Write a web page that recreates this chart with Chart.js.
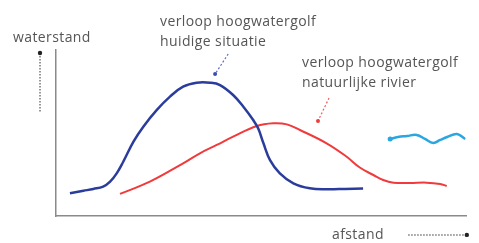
<!DOCTYPE html>
<html>
<head>
<meta charset="utf-8">
<script src="https://cdn.jsdelivr.net/npm/chart.js@4.4.0/dist/chart.umd.min.js"></script>
<style>
  html, body { margin: 0; padding: 0; background: #fff; }
  #wrap { width: 479px; height: 243px; position: relative; }
</style>
</head>
<body>
<div id="wrap"><canvas id="golf"></canvas></div>
<script>
const huidigX = [3.4, 6.7, 9.1, 11.5, 13.2, 14.8, 16.4, 18.9, 21.3, 24.6, 27.8, 31.0, 34.3, 37.6, 40.0, 43.2, 45.7, 48.1, 49.3, 50.6, 52.2, 54.6, 57.9, 61.9, 66.0, 70.5, 74.9];
const huidigY = [13.7, 15.2, 16.3, 17.7, 20.7, 25.7, 32.7, 44.8, 53.8, 63.9, 71.9, 77.9, 80.3, 80.3, 78.9, 72.9, 65.8, 57.8, 52.8, 43.8, 33.7, 25.7, 19.7, 16.7, 16.1, 16.3, 16.6];

const natuurX = [15.6, 22.9, 31.0, 35.1, 39.2, 43.2, 49.0, 53.0, 56.3, 59.5, 66.0, 70.9, 74.1, 77.4, 79.8, 82.3, 86.3, 90.4, 93.7, 95.3];
const natuurY = [13.3, 20.7, 31.7, 37.8, 42.8, 47.8, 54.2, 55.8, 55.2, 51.8, 43.8, 35.7, 29.2, 24.7, 21.7, 20.1, 19.9, 20.1, 19.3, 18.1];

// rivier-symbool
const rivierX = [81.5, 83.4, 85.6, 88.0, 90.0, 92.0, 93.7, 95.4, 97.8, 99.8];
const rivierY = [46.4, 47.6, 48.2, 48.8, 46.4, 44.0, 45.8, 47.6, 49.4, 46.4];

// aanwijslijntjes naar de curves
const wijsHuidigX = [42.0, 38.8];
const wijsHuidigY = [97.6, 85.5];
const wijsNatuurX = [66.6, 63.9];
const wijsNatuurY = [71.1, 57.2];

// pijlen langs de assen
const pijlYX = [-3.9, -3.9];
const pijlYY = [98.2, 62.7];
const pijlXX = [85.9, 100.2];
const pijlXY = [-11.4, -11.4];

const labelHuidig = ['verloop hoogwatergolf', 'huidige situatie'];
const labelNatuur = ['verloop hoogwatergolf', 'natuurlijke rivier'];
const labelY = 'waterstand';
const labelX = 'afstand';

const pts = (xs, ys) => xs.map((x, i) => ({ x: x, y: ys[i] }));

const textPlugin = {
  id: 'teksten',
  afterDraw(chart) {
    const ctx = chart.ctx;
    const sx = chart.scales.x, sy = chart.scales.y;
    ctx.save();
    // pijlpunten buiten het plotvlak
    ctx.fillStyle = '#222';
    ctx.beginPath();
    ctx.arc(sx.getPixelForValue(pijlYX[0]), sy.getPixelForValue(pijlYY[0]), 2.2, 0, Math.PI * 2);
    ctx.fill();
    ctx.beginPath();
    ctx.arc(sx.getPixelForValue(pijlXX[1]), sy.getPixelForValue(pijlXY[1]), 2.2, 0, Math.PI * 2);
    ctx.fill();

    ctx.fillStyle = '#555';
    ctx.font = '14px "Open Sans"';
    ctx.letterSpacing = '0.4px';
    ctx.textBaseline = 'middle';
    ctx.textAlign = 'left';
    ctx.fillText(labelY, 13, 38);
    ctx.fillText(labelHuidig[0], 160, 22);
    ctx.fillText(labelHuidig[1], 160, 42);
    ctx.fillText(labelNatuur[0], 302, 63);
    ctx.fillText(labelNatuur[1], 302, 83);
    ctx.fillText(labelX, 332, 235);
    ctx.restore();
  }
};

new Chart(document.getElementById('golf'), {
  type: 'line',
  data: {
    datasets: [
      {
        data: pts(huidigX, huidigY),
        borderColor: '#2b3d9c',
        borderWidth: 2.5,
        tension: 0.4,
        pointRadius: 0
      },
      {
        data: pts(natuurX, natuurY),
        borderColor: '#f03a3c',
        borderWidth: 2,
        tension: 0.4,
        pointRadius: 0
      },
      {
        data: pts(rivierX, rivierY),
        borderColor: '#2aa6e0',
        borderWidth: 2.5,
        tension: 0.4,
        pointRadius: [2.5, 0, 0, 0, 0, 0, 0, 0, 0, 0],
        pointBackgroundColor: '#2aa6e0',
        pointBorderWidth: 0
      },
      {
        data: pts(wijsHuidigX, wijsHuidigY),
        borderColor: '#5a6ec8',
        borderWidth: 1.2,
        borderDash: [2, 2],
        pointRadius: [0, 2],
        pointBackgroundColor: '#3a4fb0',
        pointBorderWidth: 0,
        clip: false
      },
      {
        data: pts(wijsNatuurX, wijsNatuurY),
        borderColor: '#f05a5c',
        borderWidth: 1.2,
        borderDash: [2, 2],
        pointRadius: [0, 2],
        pointBackgroundColor: '#f03a3c',
        pointBorderWidth: 0,
        clip: false
      },
      {
        data: pts(pijlYX, pijlYY),
        borderColor: '#777',
        borderWidth: 1.5,
        borderDash: [1.5, 1.5],
        pointRadius: 0,
        clip: false
      },
      {
        data: pts(pijlXX, pijlXY),
        borderColor: '#777',
        borderWidth: 1.5,
        borderDash: [1.5, 1.5],
        pointRadius: 0,
        clip: false
      }
    ]
  },
  options: {
    responsive: true,
    maintainAspectRatio: false,
    animation: false,
    layout: { padding: { left: 56, top: 50, right: 13, bottom: 27 } },
    plugins: { legend: { display: false }, tooltip: { enabled: false } },
    scales: {
      x: {
        type: 'linear',
        min: 0,
        max: 100,
        ticks: { display: false },
        grid: { display: true, drawOnChartArea: false, drawTicks: false },
        border: { display: true, color: '#8a8a8a', width: 1.5, dash: [1.5, 1.5] }
      },
      y: {
        min: 0,
        max: 100,
        ticks: { display: false },
        grid: { display: true, drawOnChartArea: false, drawTicks: false },
        border: { display: true, color: '#8a8a8a', width: 1.5, dash: [1.5, 1.5] }
      }
    }
  },
  plugins: [textPlugin]
});
</script>
</body>
</html>
